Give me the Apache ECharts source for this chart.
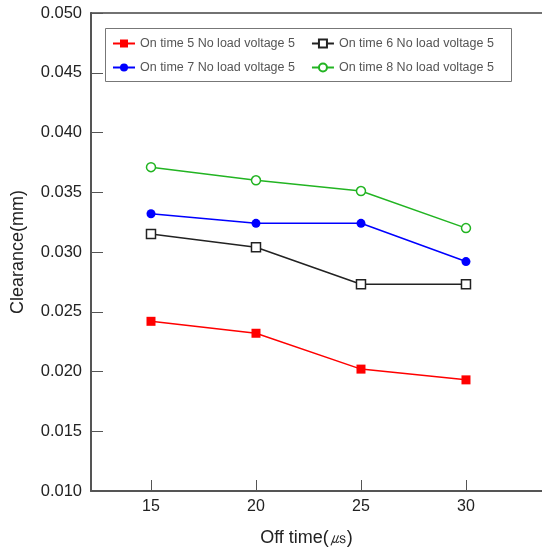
<!DOCTYPE html>
<html><head><meta charset="utf-8">
<script src="https://cdn.jsdelivr.net/npm/echarts@6/dist/echarts.min.js"></script>
<style>html,body{margin:0;padding:0;background:#fff}#c{width:542px;height:548px}</style>
</head><body><div id="c"></div>
<script>
const offTime = [15, 20, 25, 30];
const xTicks = [15, 20, 25, 30];
const names = ['On time 5 No load voltage 5','On time 6 No load voltage 5','On time 7 No load voltage 5','On time 8 No load voltage 5'];
const on5 = [0.0242, 0.0232, 0.0202, 0.0193];
const on6 = [0.0315, 0.0304, 0.0273, 0.0273];
const on7 = [0.0332, 0.0324, 0.0324, 0.0292];
const on8 = [0.0371, 0.0360, 0.0351, 0.0320];

const pts = a => a.map((v,i)=>[offTime[i], v]);
const chart = echarts.init(document.getElementById('c'));
const F = 'Liberation Sans, Arial, sans-serif';
function s(name, data, color, symbol, size, fill){
  return {name, type:'line', data:pts(data), symbol, symbolSize:size, showSymbol:true,
    lineStyle:{color, width:1.5}, itemStyle:{color:fill, borderColor:color, borderWidth: fill===color?0:1.5},
    emphasis:{disabled:true}, animation:false, z: 3};
}
const legendCommon = {orient:'horizontal', itemWidth:22, itemHeight:10, itemGap:16, padding:0,
  textStyle:{fontFamily:F, fontSize:12.5, color:'#555'}, selectedMode:false};
chart.setOption({
  animation:false,
  grid:{left:91, right:0, top:13, bottom:57, outerBoundsMode:'none', containLabel:false},
  graphic:[{type:'rect', shape:{x:105.5, y:28.5, width:406, height:53}, style:{fill:'#fff', stroke:'#777', lineWidth:1}, z:100}],
  legend:[
    Object.assign({left:112, top:37, data:[names[0], names[1]], z:101}, legendCommon),
    Object.assign({left:112, top:61, data:[names[2], names[3]], z:101}, legendCommon)
  ],
  xAxis:[{
    type:'value', min:12.143, max:33.62, position:'bottom',
    name:'Off time(㎲)', nameLocation:'middle', nameGap:38,
    nameTextStyle:{fontFamily:F, fontSize:18, color:'#222', padding:[0,20,0,0]},
    axisLine:{lineStyle:{color:'#555', width:2}},
    axisTick:{inside:true, length:11, customValues:xTicks, lineStyle:{color:'#555', width:1}},
    axisLabel:{customValues:xTicks, fontFamily:F, fontSize:16, color:'#222', margin:8},
    splitLine:{show:false}
  },{
    type:'value', min:12.143, max:33.62, position:'top',
    axisLine:{show:true, lineStyle:{color:'#444', width:1.5}},
    axisTick:{show:false}, axisLabel:{show:false}, splitLine:{show:false}
  }],
  yAxis:{
    type:'value', min:0.010, max:0.050, interval:0.005,
    name:'Clearance(mm)', nameLocation:'middle', nameGap:64, nameRotate:90,
    nameTextStyle:{fontFamily:F, fontSize:18, color:'#222'},
    axisLine:{show:true, lineStyle:{color:'#555', width:2}},
    axisTick:{inside:true, length:12, lineStyle:{color:'#555', width:1}},
    axisLabel:{formatter:v=>v.toFixed(3), fontFamily:F, fontSize:16.5, color:'#222', margin:9},
    splitLine:{show:false}
  },
  series:[
    s(names[0], on5, '#ff0000', 'rect', 9, '#ff0000'),
    s(names[1], on6, '#222222', 'rect', 9, '#ffffff'),
    s(names[2], on7, '#0000ff', 'circle', 9, '#0000ff'),
    s(names[3], on8, '#22b422', 'circle', 9, '#ffffff')
  ]
});
</script></body></html>
